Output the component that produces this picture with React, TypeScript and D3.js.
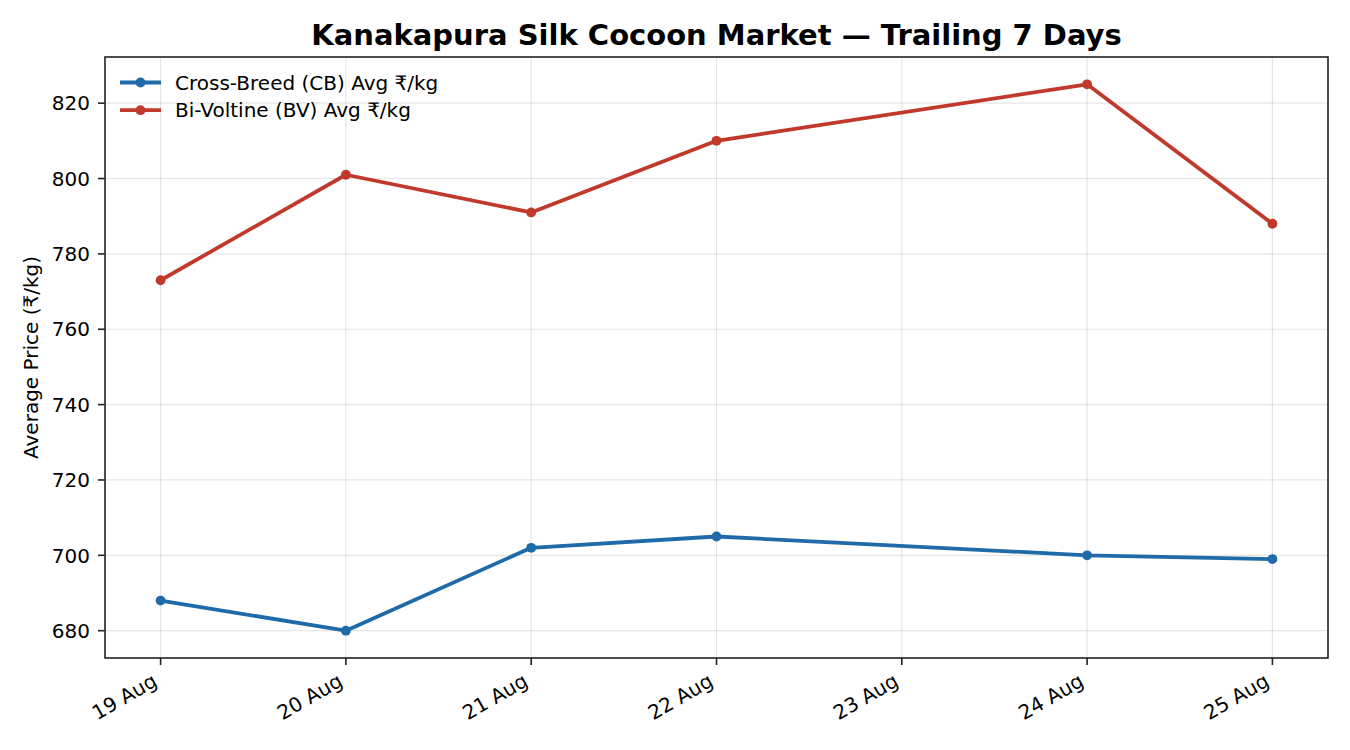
import React, { useEffect } from "react";
import * as d3 from "d3";

const dates = ["19 Aug", "20 Aug", "21 Aug", "22 Aug", "23 Aug", "24 Aug", "25 Aug"];
const cbValues: (number | null)[] = [688, 680, 702, 705, null, 700, 699];
const bvValues: (number | null)[] = [773, 801, 791, 810, null, 825, 788];
const yTicks = [680, 700, 720, 740, 760, 780, 800, 820];
const seriesNames = ["Cross-Breed (CB) Avg ₹/kg", "Bi-Voltine (BV) Avg ₹/kg"];
const seriesColors = ["#1f6aa8", "#c0392b"];

const W = 1350, H = 750;
const M = { left: 105, right: 1328, top: 57, bottom: 658 };
const FONT = "DejaVu Sans, sans-serif";
const FS = 20;

export default function App() {
  useEffect(() => {
    document.body.style.margin = "0";
  }, []);

  const x = d3.scaleLinear().domain([-0.3, 6.3]).range([M.left, M.right]);
  const y = d3.scaleLinear().domain([672.75, 832.25]).range([M.bottom, M.top]);

  const series = [cbValues, bvValues];

  const pts = (vals: (number | null)[]) =>
    vals.map((v, i) => ({ v, i })).filter((p) => p.v !== null) as { v: number; i: number }[];
  const line = d3
    .line<{ v: number; i: number }>()
    .x((p) => x(p.i))
    .y((p) => y(p.v));

  return (
    <svg width={W} height={H} style={{ display: "block", background: "#fff" }} fontFamily={FONT}>
      <rect x={0} y={0} width={W} height={H} fill="#fff" />
      {/* grid */}
      {dates.map((_, i) => (
        <line key={"gx" + i} x1={x(i)} x2={x(i)} y1={M.top} y2={M.bottom} stroke="#000" strokeOpacity={0.1} strokeWidth={1.2} />
      ))}
      {yTicks.map((t) => (
        <line key={"gy" + t} x1={M.left} x2={M.right} y1={y(t)} y2={y(t)} stroke="#000" strokeOpacity={0.1} strokeWidth={1.2} />
      ))}
      {/* lines */}
      {series.map((vals, s) => (
        <g key={"s" + s}>
          <path d={line(pts(vals)) || ""} fill="none" stroke={seriesColors[s]} strokeWidth={3.8} strokeLinejoin="round" strokeLinecap="butt" />
          {pts(vals).map((p) => (
            <circle key={p.i} cx={x(p.i)} cy={y(p.v)} r={4.9} fill={seriesColors[s]} />
          ))}
        </g>
      ))}
      {/* spines */}
      <rect x={M.left} y={M.top} width={M.right - M.left} height={M.bottom - M.top} fill="none" stroke="#222" strokeWidth={1.6} />
      {/* y ticks */}
      {yTicks.map((t) => (
        <g key={"yt" + t}>
          <line x1={M.left - 7} x2={M.left} y1={y(t)} y2={y(t)} stroke="#222" strokeWidth={1.6} />
          <text x={M.left - 15} y={y(t)} dy="0.36em" textAnchor="end" fontSize={FS} fill="#000">
            {t}
          </text>
        </g>
      ))}
      {/* x ticks */}
      {dates.map((d, i) => (
        <g key={"xt" + i}>
          <line x1={x(i)} x2={x(i)} y1={M.bottom} y2={M.bottom + 7} stroke="#222" strokeWidth={1.6} />
          <text
            transform={`translate(${x(i) - 2},${M.bottom + 27}) rotate(-30)`}
            textAnchor="end"
            fontSize={FS}
            fill="#000"
          >
            {d}
          </text>
        </g>
      ))}
      {/* y label */}
      <text transform={`translate(38,${(M.top + M.bottom) / 2}) rotate(-90)`} textAnchor="middle" fontSize={FS} fill="#000">
        Average Price (₹/kg)
      </text>
      {/* title */}
      <text x={(M.left + M.right) / 2} y={45} textAnchor="middle" fontSize={29} fontWeight="bold" fill="#000">
        Kanakapura Silk Cocoon Market — Trailing 7 Days
      </text>
      {/* legend */}
      {seriesNames.map((n, s) => (
        <g key={"lg" + s} transform={`translate(0,${82.5 + s * 27.7})`}>
          <line x1={120} x2={161} y1={0} y2={0} stroke={seriesColors[s]} strokeWidth={3.8} />
          <circle cx={140.5} cy={0} r={4.9} fill={seriesColors[s]} />
          <text x={175} y={0} dy="0.36em" fontSize={FS} fill="#000">
            {n}
          </text>
        </g>
      ))}
    </svg>
  );
}
